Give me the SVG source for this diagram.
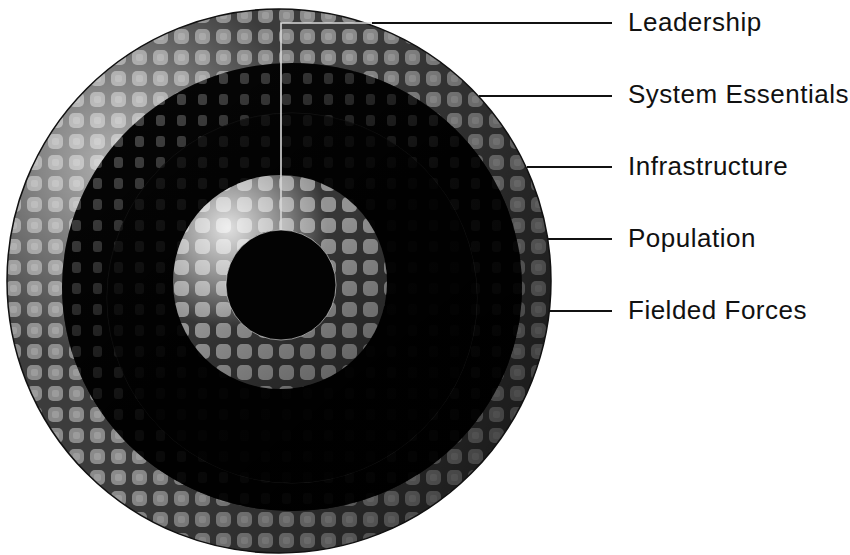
<svg xmlns="http://www.w3.org/2000/svg" width="850" height="555" viewBox="0 0 850 555">
  <style>
    .label { font-family: "Liberation Sans", Arial, sans-serif; font-size: 26px; letter-spacing: 0.5px; fill: #111; }
    .lead { stroke: #111; stroke-width: 2.2; fill: none; }
    .leadlight { stroke: #d8d8d8; stroke-width: 1.6; fill: none; }
  </style>
  <defs>
    <pattern id="pOuter" width="21" height="21" patternUnits="userSpaceOnUse" x="3" y="5">
      <rect width="21" height="21" fill="#3c3c3c"/>
      <rect x="3" y="3" width="15" height="15" rx="5" fill="#8a8a8a"/>
      <rect x="7" y="7" width="7" height="7" rx="2" fill="#9c9c9c"/>
    </pattern>
    <pattern id="pDark" width="21" height="21" patternUnits="userSpaceOnUse" x="3" y="5">
      <rect width="21" height="21" fill="#060606"/>
      <rect x="6" y="5" width="9" height="11" rx="3" fill="#4a4a4a"/>
    </pattern>
    <pattern id="pMid" width="21" height="21" patternUnits="userSpaceOnUse" x="3" y="5">
      <rect width="21" height="21" fill="#363636"/>
      <rect x="3" y="3" width="15" height="15" rx="5" fill="#939393"/>
    </pattern>
    <radialGradient id="gOuterHi" gradientUnits="userSpaceOnUse" cx="115" cy="165" r="200">
      <stop offset="0" stop-color="#fff" stop-opacity="0.6"/>
      <stop offset="0.6" stop-color="#fff" stop-opacity="0.25"/>
      <stop offset="1" stop-color="#fff" stop-opacity="0"/>
    </radialGradient>
    <linearGradient id="gOuterShade" gradientUnits="userSpaceOnUse" x1="60" y1="120" x2="550" y2="380">
      <stop offset="0.4" stop-color="#000" stop-opacity="0"/>
      <stop offset="1" stop-color="#000" stop-opacity="0.55"/>
    </linearGradient>
    <linearGradient id="gDarkShade" gradientUnits="userSpaceOnUse" x1="120" y1="100" x2="420" y2="460">
      <stop offset="0" stop-color="#000" stop-opacity="0"/>
      <stop offset="0.55" stop-color="#000" stop-opacity="0.85"/>
      <stop offset="1" stop-color="#000" stop-opacity="0.95"/>
    </linearGradient>
    <radialGradient id="gInnerHi" gradientUnits="userSpaceOnUse" cx="228" cy="228" r="100">
      <stop offset="0" stop-color="#fff" stop-opacity="0.85"/>
      <stop offset="0.5" stop-color="#fff" stop-opacity="0.45"/>
      <stop offset="1" stop-color="#fff" stop-opacity="0"/>
    </radialGradient>
    <linearGradient id="gInnerShade" gradientUnits="userSpaceOnUse" x1="200" y1="200" x2="340" y2="390">
      <stop offset="0.4" stop-color="#000" stop-opacity="0"/>
      <stop offset="1" stop-color="#000" stop-opacity="0.35"/>
    </linearGradient>
  </defs>

  <rect width="850" height="555" fill="#fff"/>

  <g id="fielded-forces">
    <circle cx="279" cy="281" r="272" fill="url(#pOuter)"/>
    <circle cx="279" cy="281" r="272" fill="url(#gOuterHi)"/>
    <circle cx="279" cy="281" r="272" fill="url(#gOuterShade)" stroke="#111" stroke-width="1.5"/>
    <text class="label" x="628" y="319">Fielded Forces</text>
  </g>

  <g id="population">
    <ellipse cx="292" cy="287" rx="230" ry="224" fill="url(#pDark)"/>
    <ellipse cx="292" cy="287" rx="230" ry="224" fill="url(#gDarkShade)"/>
    <text class="label" x="628" y="247">Population</text>
  </g>

  <g id="infrastructure">
    <circle cx="292" cy="298" r="185" fill="#050505" stroke="#151515" stroke-width="1"/>
    <circle cx="292" cy="298" r="185" fill="url(#pDark)" opacity="0.35"/>
    <circle cx="292" cy="298" r="185" fill="url(#gDarkShade)"/>
    <text class="label" x="628" y="175">Infrastructure</text>
  </g>

  <g id="system-essentials">
    <circle cx="280" cy="282" r="107" fill="url(#pMid)"/>
    <circle cx="280" cy="282" r="107" fill="url(#gInnerHi)"/>
    <circle cx="280" cy="282" r="107" fill="url(#gInnerShade)"/>
    <text class="label" x="628" y="103">System Essentials</text>
  </g>

  <g id="leadership">
    <circle cx="281" cy="285" r="55" fill="#030303" stroke="#e6e6e6" stroke-width="1" stroke-opacity="0.6"/>
    <text class="label" x="628" y="31">Leadership</text>
  </g>

  <g id="connectors">
    <path class="leadlight" d="M372,23 H281 V230"/>
    <path class="lead" d="M372,23 H612"/>
    <path class="lead" d="M479,96 H612"/>
    <path class="lead" d="M527,167 H612"/>
    <path class="lead" d="M548,239 H612"/>
    <path class="lead" d="M549,311 H612"/>
  </g>
</svg>
